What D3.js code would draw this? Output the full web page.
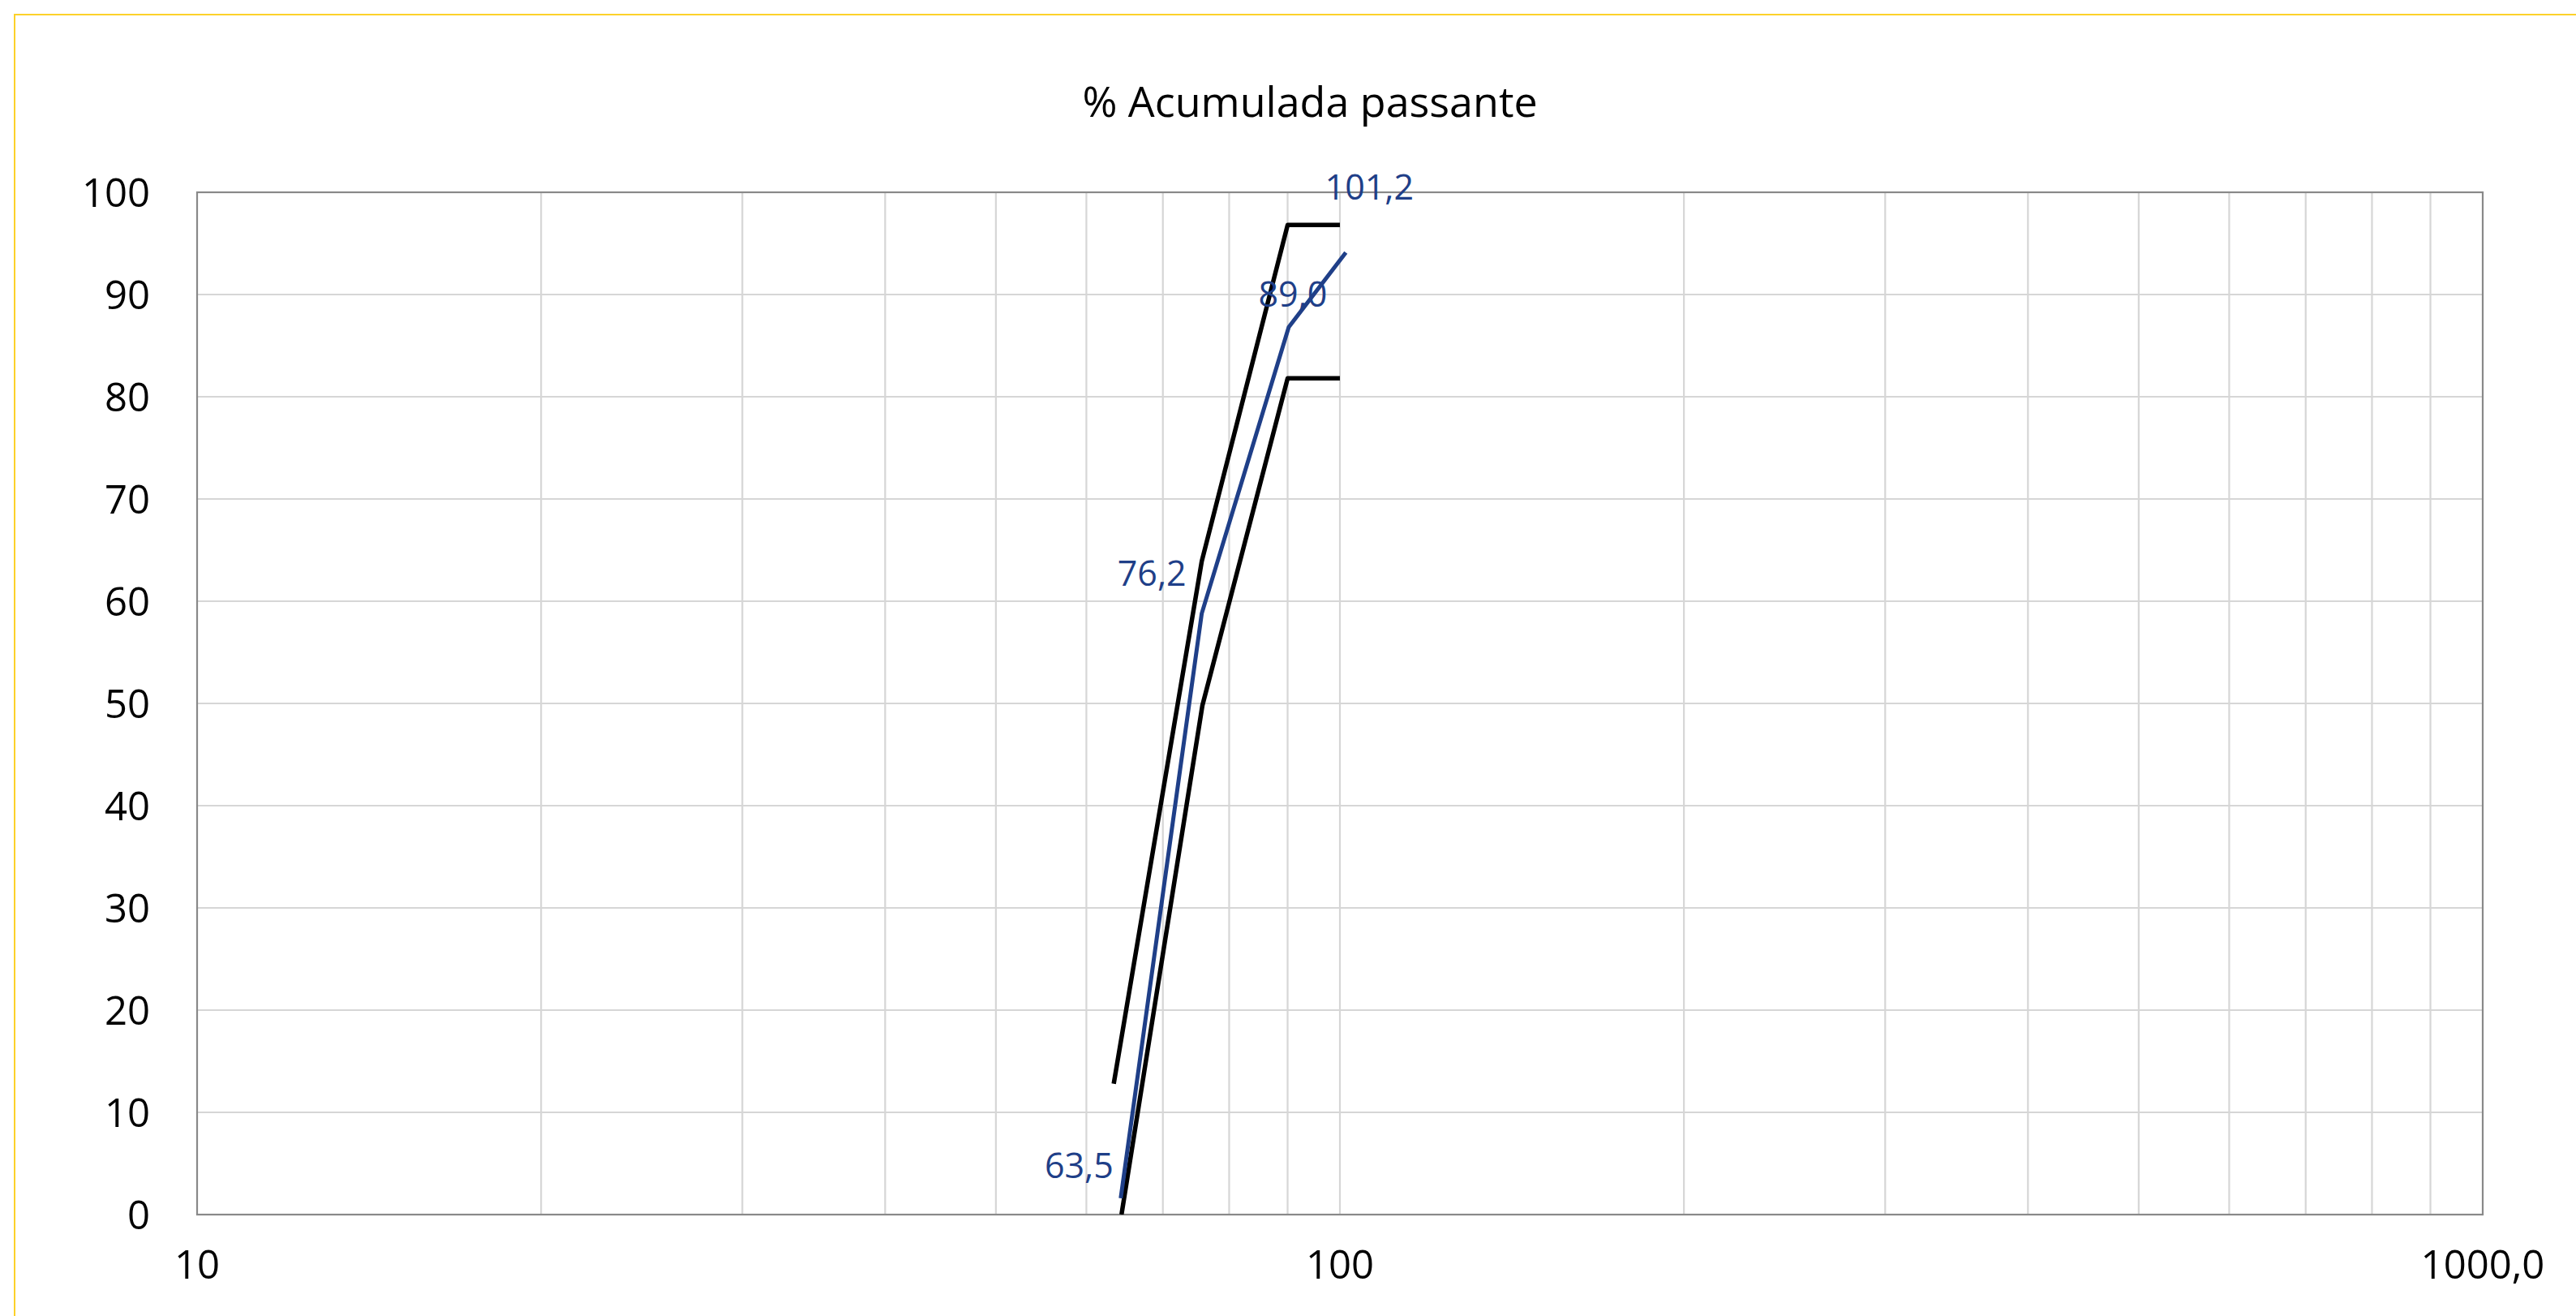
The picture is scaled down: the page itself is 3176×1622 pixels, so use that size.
<!DOCTYPE html>
<html>
<head>
<meta charset="utf-8">
<script src="https://cdn.jsdelivr.net/npm/d3@7"></script>
<style>
  html, body { margin: 0; padding: 0; background: #fff; }
  svg { display: block; font-family: "Open Sans", "Noto Sans", sans-serif; }
</style>
</head>
<body>
<div id="chart"></div>
<script>
// ── dados ──
const title = "% Acumulada passante";

// curva da amostra (azul)
const sampleSize    = [64.3, 75.7, 90.2, 101.2];
const samplePassing = [1.6, 58.8, 86.8, 94.1];
const sampleLabels  = ["63,5", "76,2", "89,0", "101,2"];

// faixa granulométrica: limite superior / inferior
const upperSize    = [63.4, 75.7, 90, 100];
const upperPassing = [12.8, 63.9, 96.8, 96.8];
const lowerSize    = [64.4, 75.8, 90, 100];
const lowerPassing = [0, 49.8, 81.8, 81.8];

const yTicks = [0, 10, 20, 30, 40, 50, 60, 70, 80, 90, 100];
const xGrid  = [20, 30, 40, 50, 60, 70, 80, 90, 100, 200, 300, 400, 500, 600, 700, 800, 900];
const xTicks = [10, 100, 1000];
const xTickLabels = ["10", "100", "1000,0"];

// ── layout ──
const W = 3176, H = 1622;
const margin = { left: 243, right: W - 3061, top: 237, bottom: H - 1497 };
const innerW = W - margin.left - margin.right;
const innerH = H - margin.top - margin.bottom;

const blue = "#1f3f88";

const svg = d3.select("#chart").append("svg")
  .attr("width", W)
  .attr("height", H);

// moldura amarela
svg.append("rect")
  .attr("x", 18).attr("y", 18)
  .attr("width", W).attr("height", H)
  .attr("fill", "none")
  .attr("stroke", "#fcd12a")
  .attr("stroke-width", 2);

svg.append("text")
  .attr("x", 1615).attr("y", 144)
  .attr("text-anchor", "middle")
  .attr("font-size", 52)
  .attr("fill", "#000")
  .text(title);

const x = d3.scaleLog().domain([10, 1000]).range([0, innerW]);
const y = d3.scaleLinear().domain([0, 100]).range([innerH, 0]);

const g = svg.append("g").attr("transform", `translate(${margin.left},${margin.top})`);

g.append("defs").append("clipPath").attr("id", "plot-clip")
  .append("rect").attr("width", innerW).attr("height", innerH);

// grelha
g.append("g").selectAll("line")
  .data(yTicks.slice(1, -1))
  .join("line")
  .attr("x1", 0).attr("x2", innerW)
  .attr("y1", (d) => y(d)).attr("y2", (d) => y(d))
  .attr("stroke", "#d6d6d6").attr("stroke-width", 2.2);

g.append("g").selectAll("line")
  .data(xGrid)
  .join("line")
  .attr("x1", (d) => x(d)).attr("x2", (d) => x(d))
  .attr("y1", 0).attr("y2", innerH)
  .attr("stroke", "#d6d6d6").attr("stroke-width", 2.2);

g.append("rect")
  .attr("width", innerW).attr("height", innerH)
  .attr("fill", "none")
  .attr("stroke", "#898989")
  .attr("stroke-width", 2.2);

// eixos
g.append("g").selectAll("text")
  .data(yTicks)
  .join("text")
  .attr("x", -58)
  .attr("y", (d) => y(d))
  .attr("dy", "0.36em")
  .attr("text-anchor", "end")
  .attr("font-size", 49)
  .attr("fill", "#000")
  .text((d) => d);

g.append("g").selectAll("text")
  .data(xTicks)
  .join("text")
  .attr("x", (d) => x(d))
  .attr("y", innerH + 79)
  .attr("text-anchor", "middle")
  .attr("font-size", 49)
  .attr("fill", "#000")
  .text((d, i) => xTickLabels[i]);

// linhas
const line = d3.line().x((d) => x(d[0])).y((d) => y(d[1]));
const series = [
  { size: upperSize,  passing: upperPassing,  color: "#000", width: 5.5 },
  { size: lowerSize,  passing: lowerPassing,  color: "#000", width: 5.5 },
  { size: sampleSize, passing: samplePassing, color: blue,   width: 5 }
];

g.append("g").attr("clip-path", "url(#plot-clip)")
  .selectAll("path")
  .data(series)
  .join("path")
  .attr("d", (s) => line(s.size.map((v, i) => [v, s.passing[i]])))
  .attr("fill", "none")
  .attr("stroke", (s) => s.color)
  .attr("stroke-width", (s) => s.width)
  .attr("stroke-linejoin", "round");

// rótulos dos pontos
const labelOffsets = [
  { dx: -9,  dy: -25, anchor: "end" },
  { dx: -19, dy: -34, anchor: "end" },
  { dx: 5,   dy: -25, anchor: "middle" },
  { dx: 29,  dy: -65, anchor: "middle" }
];

g.append("g").selectAll("text")
  .data(sampleLabels)
  .join("text")
  .attr("x", (d, i) => x(sampleSize[i]) + labelOffsets[i].dx)
  .attr("y", (d, i) => y(samplePassing[i]) + labelOffsets[i].dy)
  .attr("text-anchor", (d, i) => labelOffsets[i].anchor)
  .attr("font-size", 43)
  .attr("fill", blue)
  .text((d) => d);
</script>
</body>
</html>
